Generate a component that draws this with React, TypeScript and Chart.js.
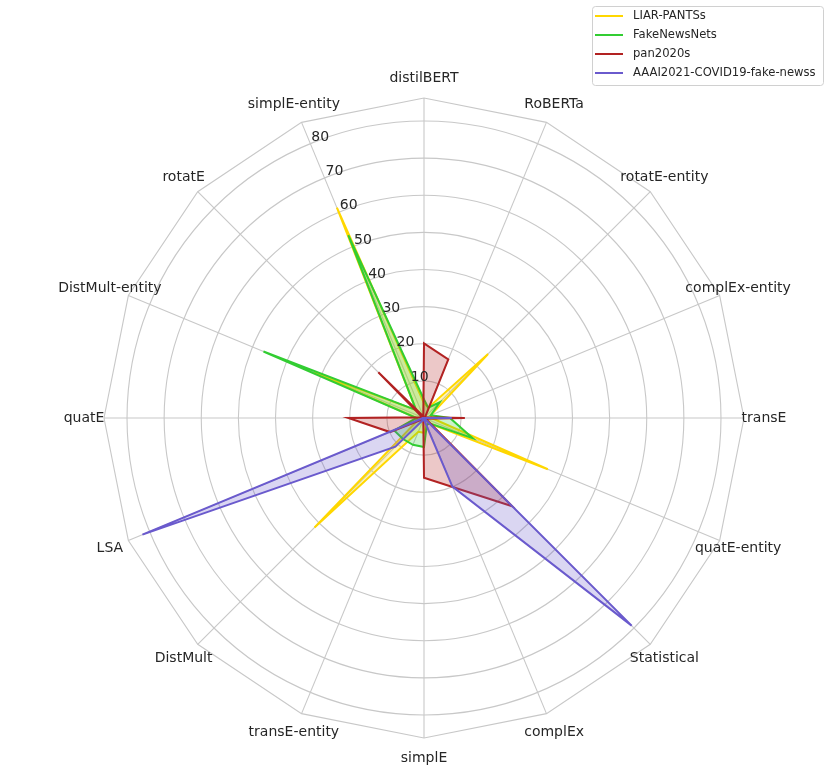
import { useEffect, useRef } from "react";
import { Chart, registerables } from "chart.js";

Chart.register(...registerables);

// axes, clockwise starting with the one carrying the radial tick labels
const axisLabels = [
  "simplE-entity",
  "distilBERT",
  "RoBERTa",
  "rotatE-entity",
  "complEx-entity",
  "transE",
  "quatE-entity",
  "Statistical",
  "complEx",
  "simplE",
  "transE-entity",
  "DistMult",
  "LSA",
  "quatE",
  "DistMult-entity",
  "rotatE",
];

const liarPants = [61.3, 4, 3, 24.4, 2, 2, 36.1, 2, 2, 4, 4, 41.7, 2, 2, 32, 3];
const fakeNewsNet = [53.3, 5, 3, 6, 2, 7, 14.2, 2, 2, 7.8, 7.8, 8, 8.7, 2, 46.8, 3];
const pan2020 = [0.5, 20.1, 17.1, 0.5, 0.5, 11, 0.5, 33.6, 20.1, 16.1, 0.5, 0.5, 9.9, 20.4, 0.5, 17.4];
const aaai2021 = [0, 0, 0, 0, 0, 7.5, 0, 79.1, 20, 0.5, 0.5, 10.9, 82.1, 0.3, 0, 0];

const seriesNames = ["LIAR-PANTSs", "FakeNewsNets", "pan2020s", "AAAI2021-COVID19-fake-newss"];
const seriesData = [liarPants, fakeNewsNet, pan2020, aaai2021];
const lineColors = ["#ffd700", "#32cd32", "#b22222", "#6a5acd"];
const fillColors = [
  "rgba(255,215,0,0.25)",
  "rgba(50,205,50,0.25)",
  "rgba(178,34,34,0.25)",
  "rgba(106,90,205,0.25)",
];

const radialTicks = [10, 20, 30, 40, 50, 60, 70, 80];
const radialMax = 86.2;

const GRID = "#c8c8c8";
const TEXT = "#262626";
const FONT = '"DejaVu Sans", sans-serif';

const radarText = {
  id: "radarText",
  afterDatasetsDraw(chart: any) {
    const scale = chart.scales.r;
    const ctx = chart.ctx as CanvasRenderingContext2D;
    ctx.save();
    ctx.fillStyle = TEXT;
    ctx.font = `14px ${FONT}`;
    ctx.textAlign = "left";
    ctx.textBaseline = "alphabetic";
    radialTicks.forEach((v) => {
      const p = scale.getPointPositionForValue(0, v);
      ctx.fillText(String(v), p.x + 1, p.y - 3);
    });
    ctx.textAlign = "center";
    ctx.textBaseline = "middle";
    axisLabels.forEach((label, i) => {
      const p = scale.getPointPosition(i, scale.drawingArea + 20);
      ctx.fillText(label, p.x, p.y);
    });
    ctx.restore();
  },
  afterDraw(chart: any) {
    const ctx = chart.ctx as CanvasRenderingContext2D;
    const x = 592;
    const y = 6;
    const w = 231;
    const h = 79;
    ctx.save();
    ctx.beginPath();
    ctx.roundRect(x + 0.5, y + 0.5, w, h, 3);
    ctx.fillStyle = "rgba(255,255,255,0.8)";
    ctx.fill();
    ctx.strokeStyle = "#d0d0d0";
    ctx.lineWidth = 1;
    ctx.stroke();
    ctx.font = `11.6px ${FONT}`;
    ctx.textAlign = "left";
    ctx.textBaseline = "middle";
    seriesNames.forEach((name, i) => {
      const ry = y + 10 + i * 19;
      ctx.beginPath();
      ctx.moveTo(x + 3, ry);
      ctx.lineTo(x + 31, ry);
      ctx.strokeStyle = lineColors[i];
      ctx.lineWidth = 2;
      ctx.stroke();
      ctx.fillStyle = TEXT;
      ctx.fillText(name, x + 41, ry);
    });
    ctx.restore();
  },
};

export default function App() {
  const canvasRef = useRef<HTMLCanvasElement>(null);

  useEffect(() => {
    const canvas = canvasRef.current;
    if (!canvas) return;

    const chart = new Chart(canvas, {
      type: "radar",
      data: {
        labels: axisLabels,
        datasets: seriesData.map((data, i) => ({
          label: seriesNames[i],
          data,
          borderColor: lineColors[i],
          backgroundColor: fillColors[i],
          borderWidth: 2,
          fill: true,
          pointRadius: 0,
          pointHoverRadius: 0,
          // later series sit on top, as in the original
          order: seriesData.length - 1 - i,
        })),
      },
      options: {
        responsive: false,
        animation: false,
        layout: { padding: { left: 104, top: 98, right: 86, bottom: 31 } },
        plugins: {
          legend: { display: false },
          tooltip: { enabled: false },
        },
        scales: {
          r: {
            min: 0,
            max: radialMax,
            startAngle: -22.5,
            ticks: { display: false, stepSize: 10 },
            grid: {
              color: GRID,
              lineWidth: 1.1,
              circular: (c: any) => c.tick && c.tick.value < radialMax - 1,
            },
            angleLines: { color: GRID, lineWidth: 1.1 },
            pointLabels: { display: false },
          },
        },
      },
      plugins: [radarText],
    });

    return () => chart.destroy();
  }, []);

  return (
    <div style={{ position: "absolute", left: 0, top: 0, width: 830, height: 769, background: "#fff" }}>
      <canvas ref={canvasRef} width={830} height={769} />
    </div>
  );
}
